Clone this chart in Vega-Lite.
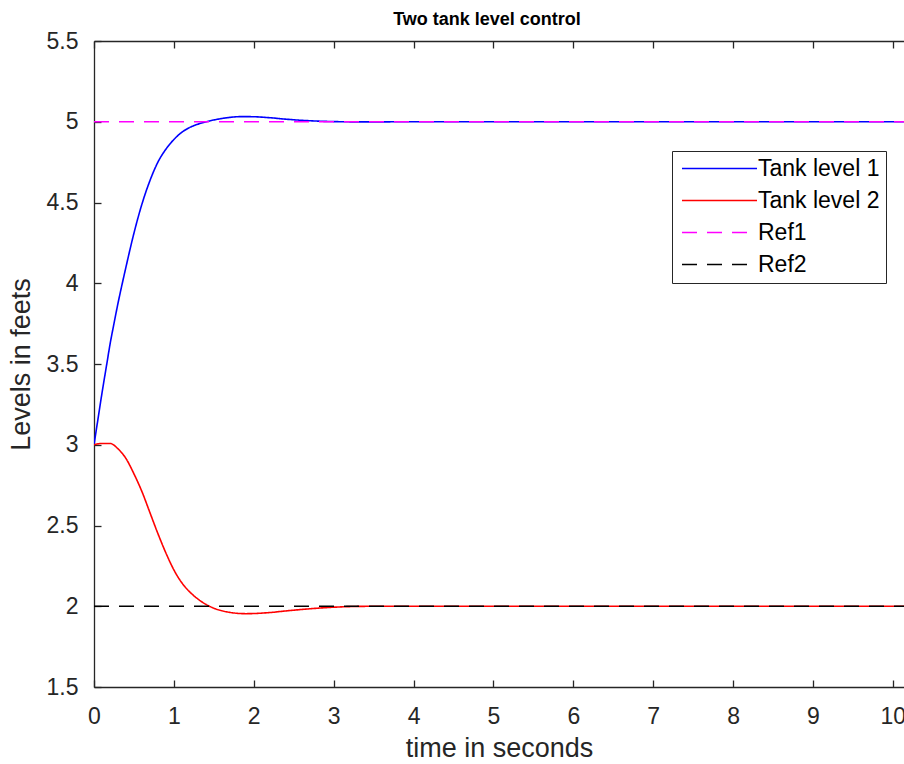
{
  "$schema": "https://vega.github.io/schema/vega-lite/v6.json",
  "autosize": {"type": "none"},
  "padding": {"left": 94, "top": 41, "right": 0, "bottom": 77},
  "width": 810,
  "height": 646,
  "background": "white",
  "title": {"text": "Two tank level control", "font": "Liberation Sans", "fontSize": 18, "fontWeight": "bold", "color": "#000000", "anchor": "middle", "offset": 1, "dx": -12},
  "config": {
    "view": {"stroke": null},
    "axis": {"labelFont": "Liberation Sans", "titleFont": "Liberation Sans", "labelFontSize": 23, "titleFontSize": 27, "titleFontWeight": "normal", "labelColor": "#262626", "titleColor": "#262626", "domainColor": "#262626", "tickColor": "#262626", "grid": false, "domainWidth": 1.3, "tickWidth": 1.3}
  },
  "data": {"values": [
    {"t": 0, "level": 3.0, "series": "Tank level 1"},
    {"t": 0.05, "level": 3.16, "series": "Tank level 1"},
    {"t": 0.1, "level": 3.32, "series": "Tank level 1"},
    {"t": 0.16, "level": 3.5, "series": "Tank level 1"},
    {"t": 0.2, "level": 3.62, "series": "Tank level 1"},
    {"t": 0.25, "level": 3.75, "series": "Tank level 1"},
    {"t": 0.3, "level": 3.875, "series": "Tank level 1"},
    {"t": 0.35, "level": 3.99, "series": "Tank level 1"},
    {"t": 0.4, "level": 4.1, "series": "Tank level 1"},
    {"t": 0.5, "level": 4.31, "series": "Tank level 1"},
    {"t": 0.6, "level": 4.49, "series": "Tank level 1"},
    {"t": 0.7, "level": 4.635, "series": "Tank level 1"},
    {"t": 0.8, "level": 4.75, "series": "Tank level 1"},
    {"t": 0.9, "level": 4.83, "series": "Tank level 1"},
    {"t": 1.0, "level": 4.89, "series": "Tank level 1"},
    {"t": 1.1, "level": 4.935, "series": "Tank level 1"},
    {"t": 1.2, "level": 4.965, "series": "Tank level 1"},
    {"t": 1.3, "level": 4.985, "series": "Tank level 1"},
    {"t": 1.4, "level": 4.999, "series": "Tank level 1"},
    {"t": 1.5, "level": 5.011, "series": "Tank level 1"},
    {"t": 1.6, "level": 5.02, "series": "Tank level 1"},
    {"t": 1.7, "level": 5.027, "series": "Tank level 1"},
    {"t": 1.85, "level": 5.032, "series": "Tank level 1"},
    {"t": 2.0, "level": 5.031, "series": "Tank level 1"},
    {"t": 2.2, "level": 5.025, "series": "Tank level 1"},
    {"t": 2.4, "level": 5.016, "series": "Tank level 1"},
    {"t": 2.6, "level": 5.009, "series": "Tank level 1"},
    {"t": 2.8, "level": 5.004, "series": "Tank level 1"},
    {"t": 3.0, "level": 5.001, "series": "Tank level 1"},
    {"t": 3.4, "level": 4.999, "series": "Tank level 1"},
    {"t": 4.0, "level": 5.0, "series": "Tank level 1"},
    {"t": 10.14, "level": 5.0, "series": "Tank level 1"},
    {"t": 0, "level": 3.0, "series": "Tank level 2"},
    {"t": 0.1, "level": 3.008, "series": "Tank level 2"},
    {"t": 0.2, "level": 3.008, "series": "Tank level 2"},
    {"t": 0.3, "level": 2.975, "series": "Tank level 2"},
    {"t": 0.4, "level": 2.915, "series": "Tank level 2"},
    {"t": 0.5, "level": 2.82, "series": "Tank level 2"},
    {"t": 0.6, "level": 2.71, "series": "Tank level 2"},
    {"t": 0.7, "level": 2.58, "series": "Tank level 2"},
    {"t": 0.8, "level": 2.45, "series": "Tank level 2"},
    {"t": 0.9, "level": 2.33, "series": "Tank level 2"},
    {"t": 1.0, "level": 2.225, "series": "Tank level 2"},
    {"t": 1.1, "level": 2.145, "series": "Tank level 2"},
    {"t": 1.2, "level": 2.088, "series": "Tank level 2"},
    {"t": 1.3, "level": 2.045, "series": "Tank level 2"},
    {"t": 1.4, "level": 2.012, "series": "Tank level 2"},
    {"t": 1.5, "level": 1.988, "series": "Tank level 2"},
    {"t": 1.6, "level": 1.972, "series": "Tank level 2"},
    {"t": 1.7, "level": 1.962, "series": "Tank level 2"},
    {"t": 1.8, "level": 1.956, "series": "Tank level 2"},
    {"t": 1.9, "level": 1.954, "series": "Tank level 2"},
    {"t": 2.0, "level": 1.955, "series": "Tank level 2"},
    {"t": 2.2, "level": 1.961, "series": "Tank level 2"},
    {"t": 2.4, "level": 1.971, "series": "Tank level 2"},
    {"t": 2.6, "level": 1.98, "series": "Tank level 2"},
    {"t": 2.8, "level": 1.988, "series": "Tank level 2"},
    {"t": 3.0, "level": 1.994, "series": "Tank level 2"},
    {"t": 3.3, "level": 1.999, "series": "Tank level 2"},
    {"t": 3.6, "level": 2.0, "series": "Tank level 2"},
    {"t": 10.14, "level": 2.0, "series": "Tank level 2"},
    {"t": 0, "level": 5.0, "series": "Ref1"},
    {"t": 10.14, "level": 5.0, "series": "Ref1"},
    {"t": 0, "level": 2.0, "series": "Ref2"},
    {"t": 10.14, "level": 2.0, "series": "Ref2"}
  ]},
  "resolve": {"axis": {"x": "independent"}},
  "layer": [
    {
      "mark": {"type": "line", "strokeWidth": 1.6, "clip": true, "interpolate": "monotone"},
      "encoding": {
        "x": {"field": "t", "type": "quantitative", "scale": {"domain": [0, 10.14], "nice": false, "zero": false},
              "axis": {"values": [0,1,2,3,4,5,6,7,8,9,10], "title": "time in seconds", "tickSize": -7, "labelPadding": 25, "labelFlush": false, "labelOverlap": false, "titlePadding": 7}},
        "y": {"field": "level", "type": "quantitative", "scale": {"domain": [1.5, 5.5], "nice": false, "zero": false},
              "axis": {"values": [1.5,2,2.5,3,3.5,4,4.5,5,5.5], "format": ".2~f", "title": "Levels in feets", "tickSize": -7, "labelPadding": 23, "titlePadding": 11}},
        "color": {"field": "series", "type": "nominal",
                  "scale": {"domain": ["Tank level 1", "Tank level 2", "Ref1", "Ref2"], "range": ["#0000FF", "#FF0000", "#FF00FF", "#000000"]},
                  "legend": {"orient": "none", "legendX": 578, "legendY": 110, "title": null, "symbolType": "M-1,0H9", "symbolSize": 225, "symbolStrokeWidth": 1.5, "labelFont": "Liberation Sans", "labelFontSize": 23, "labelColor": "#000000", "strokeColor": "#262626", "fillColor": "white", "padding": 6, "rowPadding": 8, "labelOffset": 57}},
        "strokeDash": {"field": "series", "type": "nominal",
                  "scale": {"domain": ["Tank level 1", "Tank level 2", "Ref1", "Ref2"], "range": [[1,0],[1,0],[15,10],[15,10]]},
                  "legend": null},
        "order": {"field": "t", "type": "quantitative"}
      }
    },
    {
      "mark": {"type": "rule", "opacity": 0},
      "encoding": {
        "x": {"field": "t", "type": "quantitative",
              "axis": {"orient": "top", "values": [0,1,2,3,4,5,6,7,8,9,10], "labels": false, "title": null, "tickSize": -7}}
      }
    }
  ]
}
